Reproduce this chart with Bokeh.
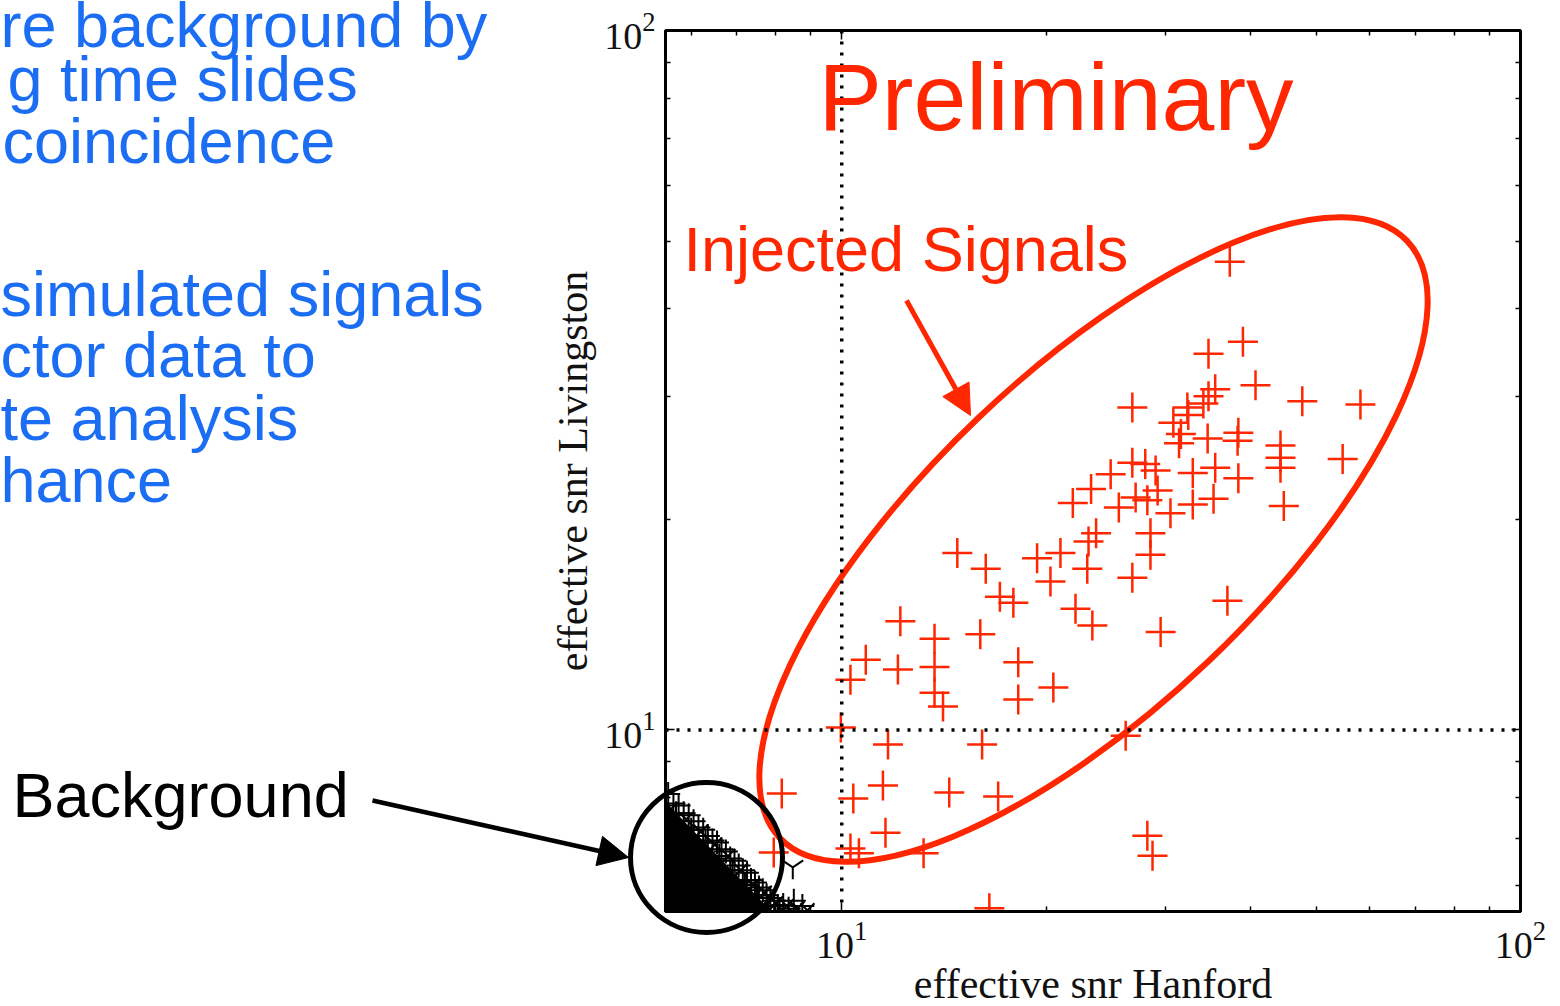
import numpy as np
from bokeh.plotting import figure
from bokeh.layouts import column
from bokeh.models import (Range1d, FixedTicker, LogAxis, Span, Label, Arrow,
                          NormalHead, LogTickFormatter)
from bokeh.embed import file_html
from bokeh.resources import INLINE

# ---------------- data ----------------
# injected signals (effective snr Hanford, effective snr Livingston)
inj_h = [37.3, 39.0, 34.7, 40.7, 35.5, 34.7, 34.1, 32.3, 32.4, 30.8, 26.8, 47.7, 58.1,
         38.4, 31.6, 31.4, 34.6, 38.3, 44.3, 44.3, 44.3, 54.7, 26.8, 28.0, 29.0, 24.9,
         23.3, 21.9, 25.6, 27.1, 28.2, 29.2, 30.5, 32.9, 35.5, 38.4, 32.9, 35.3, 44.8,
         23.7, 23.1, 28.5, 28.5, 21.0, 23.0, 26.8, 22.1, 23.4, 37.0, 29.5, 14.8, 16.3,
         19.4, 20.3, 17.1, 17.9, 12.2, 13.7, 16.0, 10.85, 10.3, 12.1, 13.7, 18.2, 13.7,
         14.1, 18.2, 20.5, 9.97, 11.7, 16.1, 26.2, 8.16, 10.4, 11.5, 14.4, 17.0, 11.6,
         10.3, 10.6, 13.2, 28.2, 28.7, 16.5, 7.94]
inj_l = [46.7, 35.9, 34.5, 31.1, 30.7, 30.0, 29.3, 28.9, 28.2, 27.5, 28.9, 29.5, 29.2,
         26.6, 26.5, 25.7, 26.1, 25.9, 25.5, 24.5, 23.7, 24.4, 24.1, 24.0, 23.5, 23.2,
         22.1, 21.1, 20.8, 21.5, 21.3, 22.0, 20.4, 23.3, 23.7, 22.9, 21.0, 21.4, 20.9,
         19.1, 18.6, 19.1, 17.8, 17.9, 17.0, 16.5, 14.9, 14.1, 15.3, 13.8, 17.9, 17.0,
         17.6, 16.3, 15.5, 15.2, 14.3, 13.5, 13.7, 12.6, 11.8, 12.2, 12.3, 12.5, 11.3,
         10.8, 11.05, 11.5, 10.08, 9.53, 9.53, 9.81, 8.11, 7.98, 8.33, 8.14, 8.03, 7.13,
         6.77, 6.66, 6.66, 7.06, 6.61, 5.56, 6.68]

# background (time slides): outer edge of the dense cloud
bg_h = [5.55, 5.65, 5.75, 5.85, 5.95, 6.05, 6.15, 6.25, 6.35, 6.45, 6.55, 6.65, 6.75,
        6.85, 6.95, 7.05, 7.15, 7.25, 7.35, 7.45, 7.55, 7.65, 7.75, 7.85, 7.95, 8.05,
        8.2, 8.35, 8.5, 8.75, 5.7, 6.0, 6.3, 6.6, 6.9, 7.2, 7.5, 7.8, 8.1]
bg_l = [8.1, 7.85, 7.8, 7.6, 7.55, 7.4, 7.25, 7.2, 7.05, 6.95, 6.9, 6.75, 6.7,
        6.55, 6.5, 6.4, 6.3, 6.25, 6.1, 6.05, 5.95, 5.9, 5.8, 5.75, 5.7, 5.6,
        5.62, 5.55, 5.7, 5.6, 7.6, 7.2, 6.9, 6.6, 6.3, 6.0, 5.8, 5.6, 5.5]
bg2_h = [5.6, 5.9, 6.2, 6.5, 6.8, 7.1, 7.4, 7.7, 8.0, 8.3, 8.6, 8.9]
bg2_l = [7.7, 7.45, 7.15, 6.85, 6.6, 6.3, 6.0, 5.85, 5.65, 5.6, 5.55, 5.52]
# dense core of the background cloud
bg_core_h = [5.5, 5.5, 7.85]
bg_core_l = [5.5, 7.85, 5.5]
bg_tri_h = [8.47]
bg_tri_l = [6.36]

threshold = 10.0
x_ticks = [10, 100]
x_minor = [6, 7, 8, 9, 20, 30, 40, 50, 60, 70, 80, 90]
XMIN, XMAX = 5.5, 100.0

RED = "#ff2600"
BLUE = "#1b6ef3"

# frame geometry (pixels)
W, H = 1560, 1006
FL, FR, FT, FB = 665, 1520, 30, 911
LMIN, LMAX = np.log10(XMIN), np.log10(XMAX)

def sx(px):
    return float(10 ** (LMIN + (px - FL) / (FR - FL) * (LMAX - LMIN)))

def sy(py):
    return float(10 ** (LMIN + (FB - py) / (FB - FT) * (LMAX - LMIN)))

# ---------------- main chart ----------------
p = figure(width=W, height=H, x_axis_type="log", y_axis_type="log",
           x_range=Range1d(XMIN, XMAX), y_range=Range1d(XMIN, XMAX),
           output_backend="svg", toolbar_location=None,
           min_border_left=FL, min_border_right=W - FR,
           min_border_top=FT, min_border_bottom=H - FB)
p.frame_align = False
p.grid.visible = False
p.outline_line_color = "black"
p.outline_line_width = 3
p.background_fill_color = "white"
p.border_fill_color = "white"

def style_axis(ax, labels=True):
    ax.ticker = FixedTicker(ticks=x_ticks, minor_ticks=x_minor)
    ax.formatter = LogTickFormatter()
    ax.axis_line_color = "black"
    ax.axis_line_width = 3
    ax.major_tick_in = 9
    ax.major_tick_out = 0
    ax.minor_tick_in = 5
    ax.minor_tick_out = 0
    ax.major_tick_line_width = 1.5
    ax.minor_tick_line_width = 1.5
    ax.major_tick_line_color = "black"
    ax.minor_tick_line_color = "black"
    ax.major_label_text_font = "Liberation Serif"
    if labels:
        ax.major_label_text_font_size = "38px"
        ax.major_label_text_color = "#111111"
        ax.major_label_standoff = 10
    else:
        ax.major_label_text_font_size = "8px"
        ax.major_label_text_alpha = 0
        ax.major_label_standoff = 0

style_axis(p.xaxis[0])
style_axis(p.yaxis[0])
top_ax = LogAxis()
right_ax = LogAxis()
style_axis(top_ax, labels=False)
style_axis(right_ax, labels=False)
p.add_layout(top_ax, "above")
p.add_layout(right_ax, "right")

# threshold lines
p.add_layout(Span(location=threshold, dimension="height", line_color="black",
                  line_width=3.5, line_dash="3 8"))
p.add_layout(Span(location=threshold, dimension="width", line_color="black",
                  line_width=3.5, line_dash="3 8"))

# background
p.patch(bg_core_h, bg_core_l, fill_color="black", line_color="black", line_width=2)
p.scatter(bg_h, bg_l, marker="cross", size=24, line_color="black", line_width=2)
p.scatter(bg2_h, bg2_l, marker="x", size=20, line_color="black", line_width=2)
p.scatter(bg_tri_h, bg_tri_l, marker="y", size=24, line_color="black", line_width=2)

# injections
p.scatter(inj_h, inj_l, marker="cross", size=30, line_color=RED, line_width=2.5)

# ellipse around injections
p.ellipse(x=[sx(1093)], y=[sy(539)], width=866, height=335, angle=0.761,
          width_units="screen", height_units="screen",
          fill_color=None, line_color=RED, line_width=6)

def label(fig, px, py, text, size, color, font="Liberation Sans", align="left",
          angle=0.0, conv=True):
    # py = wanted baseline; Bokeh's alphabetic anchor sits ~0.38 em lower
    if angle == 0.0:
        py = py - 0.38 * size
    else:
        px = px - 0.38 * size
    x, y = (sx(px), sy(py)) if conv else (px, py)
    fig.add_layout(Label(x=x, y=y, text=text, text_font=font,
                         text_font_size=f"{size}px", text_color=color,
                         text_align=align, text_baseline="alphabetic", angle=angle))

label(p, 818, 133, "Preliminary", 95, RED)
label(p, 683, 272, "Injected Signals", 63, RED)
p.add_layout(Arrow(x_start=sx(906), y_start=sy(300), x_end=sx(970), y_end=sy(415),
                   line_color=RED, line_width=5,
                   end=NormalHead(size=30, fill_color=RED, line_color=RED)))

# ---------------- slide overlay (pixel coordinates, transparent) ----------------
ov = figure(width=W, height=H, x_range=Range1d(0, W), y_range=Range1d(H, 0),
            output_backend="svg", toolbar_location=None,
            x_axis_location=None, y_axis_location=None,
            min_border=0, min_border_left=0, min_border_right=0,
            min_border_top=0, min_border_bottom=0)
ov.frame_align = False
ov.grid.visible = False
ov.outline_line_color = None
ov.background_fill_alpha = 0
ov.border_fill_alpha = 0
ov.styles = {"position": "absolute", "top": "0px", "left": "0px"}

# circle around background
ov.ellipse(x=[706], y=[857], width=152, height=150, width_units="screen",
           height_units="screen", fill_color=None, line_color="black", line_width=5)
ov.add_layout(Arrow(x_start=372, y_start=800, x_end=628, y_end=857,
                    line_color="black", line_width=4.5,
                    end=NormalHead(size=30, fill_color="black", line_color="black")))

label(ov, 12, 818, "Background", 63, "black", conv=False)
blue_lines = [(0, 48, "re background by"), (7, 102, "g time slides"),
              (2, 164, "coincidence"), (0, 317, "simulated signals"),
              (0, 378, "ctor data to"), (0, 441, "te analysis"), (0, 503, "hance")]
for bx, by, txt in blue_lines:
    label(ov, bx, by, txt, 63, BLUE, conv=False)

label(ov, (FL + FR) / 2, 999, "effective snr Hanford", 42, "#111111",
      font="Liberation Serif", align="center", conv=False)
label(ov, 588, (FT + FB) / 2, "effective snr Livingston", 42, "#111111",
      font="Liberation Serif", align="center", angle=float(np.pi / 2), conv=False)

page = column(p, ov)
open("out.html", "w").write(file_html(page, INLINE))
